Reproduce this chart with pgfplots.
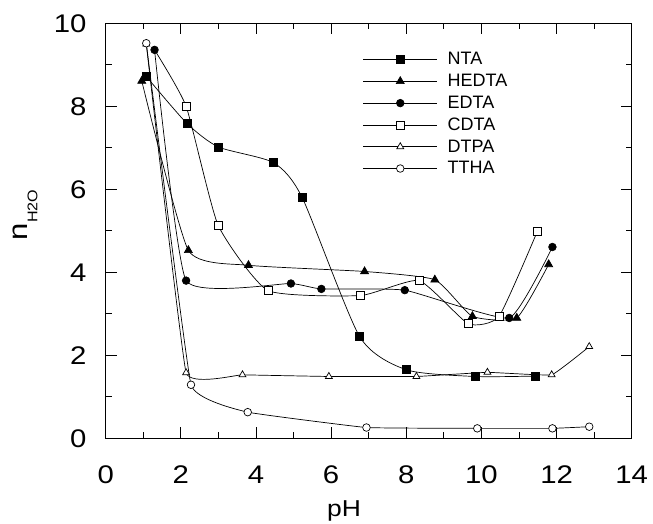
\documentclass[border=0pt]{standalone}
\usepackage{fontspec}
\setmainfont{Liberation Sans}
\newfontfamily\widefont[FakeStretch=1.15]{Liberation Sans}
\usepackage{pgfplots}
\pgfplotsset{compat=1.18}
\begin{document}
\begin{tikzpicture}
\useasboundingbox (0,0) rectangle (653pt,-523pt);
\begin{axis}[
  at={(105.7pt,-438.3pt)}, anchor=south west,
  scale only axis, width=526pt, height=415pt,
  xmin=0, xmax=14, ymin=0, ymax=10,
  xtick={0,2,...,14}, ytick={0,2,...,10},
  minor x tick num=1, minor y tick num=1,
  major tick length=11pt, minor tick length=6pt,
  axis line style={line width=0.8pt},
  every tick/.style={black, line width=0.7pt},
  /pgf/number format/assume math mode=true,
  tick label style={font=\widefont\fontsize{25.5}{25.5}\selectfont},
  xticklabel style={anchor=base, yshift=-45pt},
  yticklabel style={anchor=east, inner sep=0pt, xshift=-19pt},
  xlabel={pH},
  xlabel style={at={(axis description cs:0.453,0)}, anchor=base, yshift=-78.4pt, font=\widefont\fontsize{23}{23}\selectfont},
  ylabel={n\raisebox{-0.38em}{\fontsize{14}{14}\selectfont H2O}},
  ylabel style={at={(axis description cs:-0.1534,0.538)}, anchor=center, font=\widefont\fontsize{27}{27}\selectfont},
  legend style={at={(rel axis cs:0.4886,0.9395)}, anchor=north west, draw=none, fill=none,
    inner sep=0pt, row sep=0pt, column sep=10pt,
    nodes={inner sep=0pt, minimum height=21.8pt, font=\fontsize{18}{18}\selectfont}},
  legend cell align=left,
  legend image code/.code={\draw[mark repeat=2,mark phase=2,#1] plot coordinates {(0pt,0pt) (37pt,0pt) (74pt,0pt)};},
  every axis plot/.append style={black, line width=0.7pt, smooth, tension=0.4},
]
\addplot[mark=square*, mark size=4pt, mark options={fill=black}] coordinates {
(1.08,8.72) (2.16,7.59) (3.0,7.02) (4.47,6.64) (5.23,5.80) (6.76,2.45) (8.01,1.65) (9.83,1.49) (11.43,1.50)};
\addlegendentry{NTA}
\addplot[mark=triangle*, mark size=4.6pt, mark options={fill=black}, tension=0.3] coordinates {
(0.96,8.61) (2.2,4.53) (3.8,4.17) (6.89,4.02) (8.76,3.82) (9.76,2.94) (10.94,2.90) (11.79,4.19)};
\addlegendentry{HEDTA}
\addplot[mark=*, mark size=3.8pt, mark options={fill=black}, tension=0.25] coordinates {
(1.3,9.36) (2.14,3.80) (4.93,3.73) (5.74,3.60) (7.96,3.57) (10.74,2.90) (11.89,4.61)};
\addlegendentry{EDTA}
\addplot[mark=square*, mark size=4pt, mark options={fill=white}, mark indices={2,3,4,5,6,7,8,9}, tension=0.3, forget plot] coordinates {
(1.3,9.36) (2.14,8.0) (2.99,5.14) (4.32,3.56) (6.78,3.44) (8.34,3.80) (9.65,2.76) (10.47,2.94) (11.49,4.99)};
\addlegendimage{black, line width=0.7pt, mark=square*, mark size=4pt, mark options={fill=white}}
\addlegendentry{CDTA}
\addplot[mark=triangle*, mark size=4pt, mark options={fill=white}, tension=0.15] coordinates {
(1.08,9.50) (2.14,1.58) (3.64,1.53) (5.94,1.49) (8.27,1.49) (10.16,1.59) (11.87,1.53) (12.87,2.21)};
\addlegendentry{DTPA}
\addplot[mark=*, mark size=3.8pt, mark options={fill=white}, tension=0.15] coordinates {
(1.08,9.52) (2.27,1.29) (3.78,0.63) (6.94,0.26) (9.89,0.24) (11.89,0.24) (12.87,0.28)};
\addlegendentry{TTHA}
\end{axis}
\end{tikzpicture}
\end{document}
